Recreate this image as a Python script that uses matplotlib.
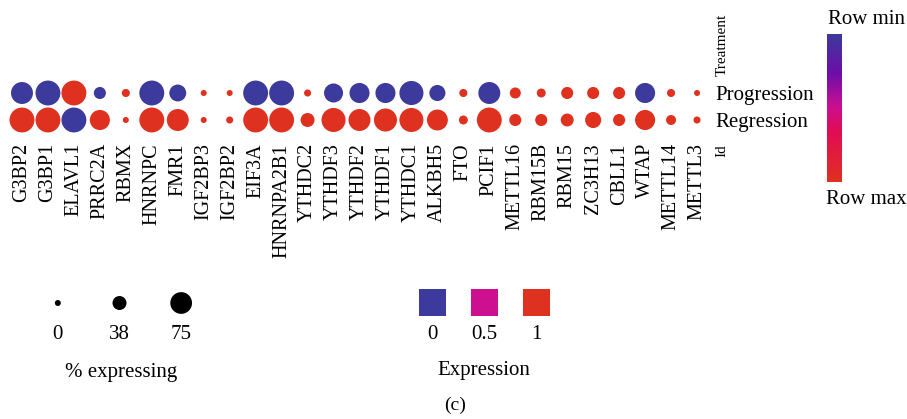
import numpy as np
import matplotlib
matplotlib.use('Agg')
import matplotlib.pyplot as plt
from matplotlib.colors import LinearSegmentedColormap

plt.rcParams['font.family'] = ['Liberation Serif', 'DejaVu Serif']

# Genes and groups
genes = ['G3BP2', 'G3BP1', 'ELAVL1', 'PRRC2A', 'RBMX', 'HNRNPC', 'FMR1', 'IGF2BP3',
         'IGF2BP2', 'EIF3A', 'HNRNPA2B1', 'YTHDC2', 'YTHDF3', 'YTHDF2', 'YTHDF1',
         'YTHDC1', 'ALKBH5', 'FTO', 'PCIF1', 'METTL16', 'RBM15B', 'RBM15', 'ZC3H13',
         'CBLL1', 'WTAP', 'METTL14', 'METTL3']
groups = ['Progression', 'Regression']

# % expressing
pct_prog = [76, 90, 90, 29, 10, 90, 52, 0, 0, 90, 90, 5, 62, 67, 67, 86, 48, 10, 76,
            24, 14, 29, 29, 29, 67, 10, 0]
pct_reg = [90, 90, 90, 67, 0, 90, 76, 0, 5, 90, 90, 38, 86, 76, 81, 86, 71, 14, 90,
           29, 29, 33, 48, 29, 67, 19, 5]

# scaled expression (0 = row min, 1 = row max)
expr_prog = [0, 0, 1, 0, 1, 0, 0, 1, 1, 0, 0, 1, 0, 0, 0, 0, 0, 1, 0, 1, 1, 1, 1, 1, 0, 1, 1]
expr_reg = [1, 1, 0, 1, 1, 1, 1, 1, 1, 1, 1, 1, 1, 1, 1, 1, 1, 1, 1, 1, 1, 1, 1, 1, 1, 1, 1]

size_legend = [0, 38, 75]
color_legend = [0, 0.5, 1]
color_legend_labels = ['0', '0.5', '1']

cmap = LinearSegmentedColormap.from_list(
    'rowscale', [(0, '#3c3a9c'), (0.27, '#6d0ea8'), (0.5, '#cc1090'),
                 (0.66, '#e20c55'), (1, '#df3120')])


def dot_size(p):
    # diameter in px -> marker area in pt^2 (dpi 100)
    d = 6 + 21 * np.asarray(p) / 100
    return (d * 0.72) ** 2


W, H = 907, 419
fig = plt.figure(figsize=(W / 100, H / 100), dpi=100)

# main dot plot
ax = fig.add_axes([9 / W, (H - 133.5) / H, 701 / W, 54 / H])
x = np.arange(len(genes))
ax.scatter(x, np.zeros(len(genes)), s=dot_size(pct_prog), c=cmap(np.array(expr_prog, float)),
           linewidths=0)
ax.scatter(x, np.ones(len(genes)), s=dot_size(pct_reg), c=cmap(np.array(expr_reg, float)),
           linewidths=0)
ax.set_xlim(-0.5, len(genes) - 0.5)
ax.set_ylim(1.5, -0.5)
ax.set_xticks(x)
ax.set_xticklabels(genes, rotation=90, fontsize=14.5)
ax.set_yticks([0, 1])
ax.set_yticklabels(groups, fontsize=15)
ax.yaxis.tick_right()
ax.tick_params(axis='x', length=0, pad=7)
ax.tick_params(axis='y', length=0, pad=4)
for s in ax.spines.values():
    s.set_visible(False)

fig.text(722 / W, 1 - 45 / H, 'Treatment', rotation=90, ha='center', va='center', fontsize=11)
fig.text(722 / W, 1 - 151 / H, 'Id', rotation=90, ha='center', va='center', fontsize=11)

# colour bar
cax = fig.add_axes([827 / W, 1 - 182 / H, 15 / W, 148 / H])
cax.imshow(np.linspace(0, 1, 256)[:, None], aspect='auto', cmap=cmap)
cax.set_axis_off()
fig.text(866 / W, 1 - 19 / H, 'Row min', ha='center', va='center', fontsize=15)
fig.text(866 / W, 1 - 199 / H, 'Row max', ha='center', va='center', fontsize=15)

# size legend
sax = fig.add_axes([27 / W, 1 - 350 / H, 185 / W, 70 / H])
sax.set_xlim(-0.5, 2.5)
sax.set_ylim(350, 280)
sax.scatter(range(3), [303] * 3, s=dot_size(size_legend), c='black', linewidths=0)
for i, v in enumerate(size_legend):
    sax.text(i, 334, str(v), ha='center', va='center', fontsize=15)
sax.set_axis_off()
fig.text(121 / W, 1 - 372 / H, '% expressing', ha='center', va='center', fontsize=15)

# expression legend
eax = fig.add_axes([406.5 / W, 1 - 350 / H, 156 / W, 70 / H])
eax.set_xlim(-0.5, 2.5)
eax.set_ylim(350, 280)
eax.scatter(range(3), [302.5] * 3, s=(27 * 0.72) ** 2, marker='s',
            c=cmap(np.array(color_legend, float)), linewidths=0)
for i, lab in enumerate(color_legend_labels):
    eax.text(i, 334, lab, ha='center', va='center', fontsize=15)
eax.set_axis_off()
fig.text(484 / W, 1 - 371 / H, 'Expression', ha='center', va='center', fontsize=15)
fig.text(455 / W, 1 - 405 / H, '(c)', ha='center', va='center', fontsize=14)

fig.savefig('out.png', dpi=100)
